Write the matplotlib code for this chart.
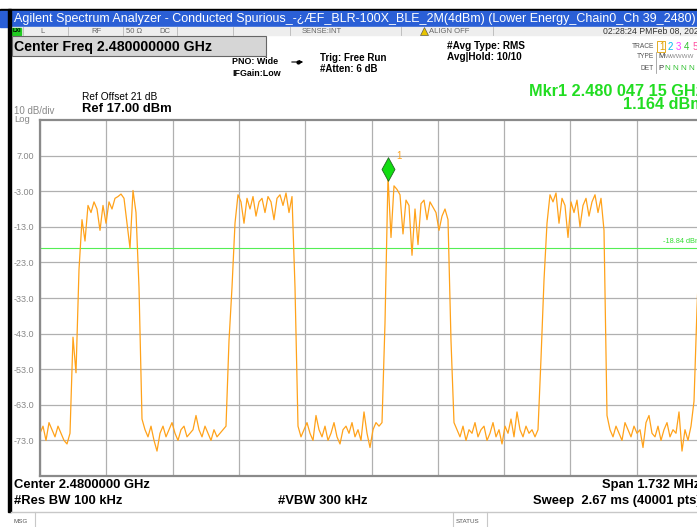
import numpy as np
import matplotlib.pyplot as plt
from matplotlib.patches import Rectangle
from matplotlib import transforms

plt.rcParams['font.family'] = ['Liberation Sans', 'DejaVu Sans']

# trace readings in dBm, one value per display bin across the span (left to right)
noise_a = [-71, -69, -73, -68, -70, -72, -69, -71, -73, -74, -71]
burst_a = [-44, -54, -25, -11, -17, -7, -9, -6, -8, -14, -7, -12, -6, -8, -5, -4.5,
           -3.8, -5, -12, -19, -2.8, -9, -30]
noise_b = [-67, -70, -72, -69, -73, -76, -71, -69, -72, -70, -68, -71, -73, -70, -69,
           -72, -71, -70, -66, -70, -72, -69, -71, -73, -70, -72, -71, -70, -69]
burst_b = [-45, -30, -12, -4, -6, -12, -5, -8, -4.5, -10, -6, -5, -9, -4.5, -6, -11,
           -5, -4, -7, -3.5, -9, -4.5, -30]
noise_c = [-69, -72, -70, -68, -71, -73, -66, -70, -72, -69, -73, -71, -68, -72, -74,
           -70, -69, -71, -68, -72, -70, -73, -65, -71, -75, -70, -68, -69, -68]
burst_c = [-40, 1.164, -16, -1.5, -2.5, -4, -15, -5.5, -7, -21, -8, -18, -6.5, -5.5,
           -11, -6, -7.5, -9, -14, -10, -8, -11, -45]
noise_d = [-68, -70, -72, -69, -73, -70, -71, -68, -72, -70, -69, -73, -71, -68, -72,
           -70, -74, -69, -71, -67, -72, -65, -70, -72, -69, -71, -70, -72, -70]
burst_d = [-50, -28, -12, -4, -6, -3.5, -12, -5, -7, -16, -6, -9, -5.5, -13, -7, -5,
           -10, -6, -4, -9, -5, -14]
noise_e = [-66, -70, -72, -69, -71, -73, -68, -70, -72, -69, -71, -70, -75, -68, -66,
           -71, -72, -69, -73, -70, -68, -72, -70, -71, -65, -76, -70, -73, -69]
burst_e = [-62, -36, -15, -6]

trace_dbm = np.array(noise_a + burst_a + noise_b + burst_b + noise_c + burst_c
                     + noise_d + burst_d + noise_e + burst_e)

span_khz = 1732
ref_level = 17.0
bottom_level = -83.0
display_line = -18.84
ytick_vals = [7, -3, -13, -23, -33, -43, -53, -63, -73]
ytick_labels = ['7.00', '-3.00', '-13.0', '-23.0', '-33.0', '-43.0', '-53.0', '-63.0', '-73.0']

freq_khz = np.linspace(-span_khz / 2, span_khz / 2, len(trace_dbm))

W, H = 697, 527
fig = plt.figure(figsize=(W / 100, H / 100), dpi=100)

# screen overlay in pixel coordinates
ui = fig.add_axes([0, 0, 1, 1])
ui.set_xlim(0, W)
ui.set_ylim(H, 0)
ui.axis('off')

# title bar
ui.add_patch(Rectangle((0, 9), W, 2, color='black'))
ui.add_patch(Rectangle((0, 11), W, 16, color='#2a5fd6'))
ui.text(14, 19, 'Agilent Spectrum Analyzer - Conducted Spurious_-\u00bf\u00c6F_BLR-100X_BLE_2M(4dBm) '
        '(Lower Energy_Chain0_Ch 39_2480)', color='white', fontsize=9, va='center')

# status row
ui.add_patch(Rectangle((11, 27), W, 8, color='#eeeeee'))
for xd in [23, 68, 123, 177, 233, 290, 401, 493]:
    ui.plot([xd, xd], [27, 35], color='#b8b8b8', lw=0.6)
ui.add_patch(Rectangle((12, 27.5), 9, 7, color='#22cc22'))
ui.text(16.5, 31, 'LXI', fontsize=4, ha='center', va='center', fontweight='bold')
for xs, s in [(40, 'L'), (91, 'RF'), (126, '50 \u03a9'), (159, 'DC')]:
    ui.text(xs, 31.2, s, fontsize=5.5, color='#666666', va='center')
ui.text(342, 31.2, 'SENSE:INT', fontsize=5.5, color='#666666', va='center', ha='right')
ui.plot([424], [31], marker='^', color='#e8c400', ms=6, mec='#444444', mew=0.4)
ui.text(429, 31.2, 'ALIGN OFF', fontsize=5.5, color='#666666', va='center')
ui.text(603, 31.2, '02:28:24 PMFeb 08, 2024', fontsize=6.2, color='#333333', va='center')

# left border
ui.add_patch(Rectangle((8, 9), 3, 503, color='black'))

# header
ui.add_patch(Rectangle((12, 36), 254, 20, facecolor='#d6d6d6', edgecolor='#666666', lw=0.8))
ui.text(14, 46.5, 'Center Freq 2.480000000 GHz', fontsize=10.2, fontweight='bold', va='center')
ui.text(232, 62, 'PNO: Wide', fontsize=6.4, fontweight='bold', va='center')
ui.annotate('', xy=(306, 62), xytext=(289, 62),
            arrowprops=dict(arrowstyle='-|>', color='black', lw=0.8, mutation_scale=5))
ui.plot([297.5], [62], marker='o', color='black', ms=2)
ui.text(232, 73, 'IFGain:Low', fontsize=6.4, fontweight='bold', va='center')
ui.text(320, 58, 'Trig: Free Run', fontsize=7, fontweight='bold', va='center')
ui.text(320, 69, '#Atten: 6 dB', fontsize=7, fontweight='bold', va='center')
ui.text(447, 46, '#Avg Type: RMS', fontsize=7.2, fontweight='bold', va='center')
ui.text(447, 57, 'Avg|Hold: 10/10', fontsize=7.2, fontweight='bold', va='center')

ui.text(654, 46, 'TRACE', fontsize=4.8, color='#555555', va='center', ha='right')
ui.text(654, 57, 'TYPE', fontsize=4.8, color='#555555', va='center', ha='right')
ui.text(654, 68, 'DET', fontsize=4.8, color='#555555', va='center', ha='right')
trace_num_colors = ['#e0a000', '#00b8f0', '#ff40ff', '#30c030', '#ff50a0', '#f08000']
for k, c in enumerate(trace_num_colors):
    ui.text(659 + k * 8.3, 46.5, str(k + 1), fontsize=7, color=c, va='center')
ui.add_patch(Rectangle((657, 41), 8, 11, fill=False, edgecolor='#e0a000', lw=0.6))
ui.plot([656, 656], [52, 73], color='#888888', lw=0.5)
ui.text(658, 57, 'M', fontsize=5.5, color='#333333', va='center')
ui.text(665, 57, 'WWWWW', fontsize=4.5, color='#888888', va='center')
ui.text(658, 68, 'P', fontsize=5.5, color='#333333', va='center')
ui.text(665, 68, 'N N N N N', fontsize=5.8, color='#30c030', va='center')

ui.text(82, 97, 'Ref Offset 21 dB', fontsize=7.3, va='center')
ui.text(82, 109, 'Ref 17.00 dBm', fontsize=9.4, fontweight='bold', va='center')
ui.text(14, 110.5, '10 dB/div', fontsize=7, color='#888888', va='center')
ui.text(14, 119.5, 'Log', fontsize=6.8, color='#888888', va='center')

ui.text(529, 91, 'Mkr1 2.480 047 15 GHz', fontsize=11.7, fontweight='bold', color='#22dd22', va='center')
ui.text(623, 104.5, '1.164 dBm', fontsize=11.7, fontweight='bold', color='#22dd22', va='center')

# footer
ui.text(14, 485, 'Center 2.4800000 GHz', fontsize=9.4, fontweight='bold', va='center')
ui.text(14, 501, '#Res BW 100 kHz', fontsize=9.4, fontweight='bold', va='center')
ui.text(278, 501, '#VBW 300 kHz', fontsize=9.4, fontweight='bold', va='center')
ui.text(602, 485, 'Span 1.732 MHz', fontsize=9.4, fontweight='bold', va='center')
ui.text(533, 501, 'Sweep  2.67 ms (40001 pts)', fontsize=9.4, fontweight='bold', va='center')
ui.plot([11, W], [512, 512], color='#c8c8c8', lw=1)
ui.plot([35, 35], [512, H], color='#c8c8c8', lw=0.8)
ui.plot([453, 453], [512, H], color='#c8c8c8', lw=0.8)
ui.plot([487, 487], [512, H], color='#c8c8c8', lw=0.8)
ui.text(13, 521.5, 'MSG', fontsize=4.5, color='#555555', va='center')
ui.text(456, 521.5, 'STATUS', fontsize=4.5, color='#555555', va='center')

# spectrum graticule
ax = fig.add_axes([40 / W, (H - 476) / H, 663 / W, 356 / H])
ax.set_facecolor('white')
ax.set_xlim(-span_khz / 2, span_khz / 2)
ax.set_ylim(bottom_level, ref_level)
ax.set_xticks(np.linspace(-span_khz / 2, span_khz / 2, 11))
ax.set_xticklabels([])
ax.set_yticks(ytick_vals)
ax.set_yticklabels(ytick_labels)
ax.tick_params(length=0, labelsize=6.5, labelcolor='#888888', pad=4)
ax.grid(True, color='#b0b0b0', lw=0.9)
ax.set_axisbelow(True)
for sp in ax.spines.values():
    sp.set_color('#8a8a8a')
    sp.set_linewidth(1.6)

ax.axhline(display_line, color='#55ee55', lw=0.8)
ax.text(span_khz / 2 - 104, display_line + 1.6, '-18.84 dBm', fontsize=5.3, color='#33dd33', va='center')

ax.plot(freq_khz, trace_dbm, color='#ffa21a', lw=0.9)

# marker 1 at the trace peak
pk = int(np.argmax(trace_dbm))
mtrans = transforms.offset_copy(ax.transData, fig=fig, x=0, y=7, units='dots')
diamond = [(0, -1), (0.55, 0), (0, 1), (-0.55, 0), (0, -1)]
ax.plot(freq_khz[pk], trace_dbm[pk], marker=diamond, ms=17, color='#11dd11',
        mec='#226622', mew=0.6, transform=mtrans, clip_on=False, zorder=5)
ltrans = transforms.offset_copy(ax.transData, fig=fig, x=8, y=20, units='dots')
ax.text(freq_khz[pk], trace_dbm[pk], '1', fontsize=7, color='#ffa21a',
        transform=ltrans, va='center')

fig.savefig('out.png', dpi=100)
